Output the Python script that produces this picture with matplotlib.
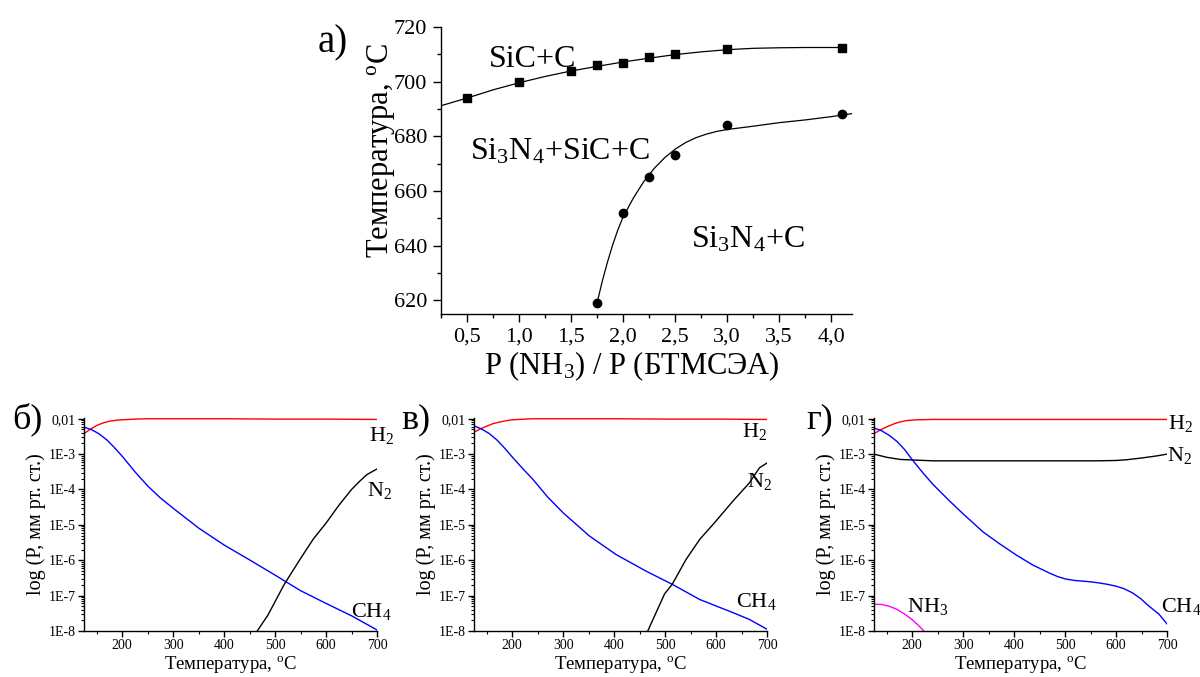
import numpy as np
import matplotlib
matplotlib.use("Agg")
import matplotlib.pyplot as plt
from matplotlib.ticker import FixedLocator, MultipleLocator, LogLocator, NullFormatter

plt.rcParams.update({
    "font.family": ["Liberation Serif", "DejaVu Serif"],
    "mathtext.fontset": "custom",
    "mathtext.rm": "Liberation Serif",
    "mathtext.it": "Liberation Serif:italic",
    "mathtext.bf": "Liberation Serif:bold",
    "axes.linewidth": 1.0,
})

# --- phase diagram: measured boundary points ---
ratio_sic = [0.5, 1.0, 1.5, 1.75, 2.0, 2.25, 2.5, 3.0, 4.1]
temp_sic = [694, 700, 704, 706, 707, 709, 710, 712, 712.5]
ratio_si3n4 = [1.75, 2.0, 2.25, 2.5, 3.0, 4.1]
temp_si3n4 = [619, 652, 665, 673, 684, 688]

# fitted boundary lines
fit_sic_x = [0.25, 0.5, 0.75, 1.0, 1.25, 1.5, 1.75, 2.0, 2.25, 2.5, 2.75, 3.0,
             3.25, 3.5, 3.75, 4.1]
fit_sic_y = [691.2, 694.0, 697.0, 699.6, 701.9, 703.9, 705.6, 707.2, 708.6,
             709.9, 710.9, 711.7, 712.2, 712.4, 712.5, 712.5]
fit_si3n4_x = [1.75, 1.8, 1.85, 1.9, 1.95, 2.0, 2.1, 2.2, 2.3, 2.4, 2.5, 2.6,
               2.7, 2.8, 2.9, 3.0, 3.25, 3.5, 3.75, 4.0, 4.2]
fit_si3n4_y = [619, 627, 634, 640.3, 645.8, 650.5, 657.5, 663.5, 668.3, 672.2,
               675.3, 677.7, 679.5, 680.8, 681.8, 682.5, 683.7, 685.0, 686.0,
               687.2, 688.3]

ratio_ticks = [0.5, 1.0, 1.5, 2.0, 2.5, 3.0, 3.5, 4.0]
ratio_labels = ["0,5", "1,0", "1,5", "2,0", "2,5", "3,0", "3,5", "4,0"]

# --- equilibrium partial pressures, log10 (mm Hg) vs temperature ---
# panel б
b_h2_t = [125, 137, 150, 162, 175, 190, 200, 225, 250, 300, 400, 500, 600, 700]
b_h2 = [-2.42, -2.30, -2.19, -2.12, -2.07, -2.04, -2.03, -2.01, -2.0, -2.0,
        -2.0, -2.01, -2.01, -2.02]
b_ch4_t = [125, 140, 155, 170, 185, 200, 225, 250, 275, 300, 350, 400, 450,
           500, 550, 600, 650, 700]
b_ch4 = [-2.24, -2.31, -2.43, -2.60, -2.82, -3.06, -3.50, -3.90, -4.24, -4.53,
         -5.09, -5.57, -5.99, -6.42, -6.86, -7.22, -7.57, -7.97]
b_n2_t = [465, 486, 518, 550, 575, 600, 625, 650, 665, 680, 700]
b_n2 = [-8.0, -7.55, -6.68, -5.95, -5.40, -4.95, -4.45, -4.00, -3.78, -3.58,
        -3.42]

# panel в
v_h2_t = [125, 137, 150, 162, 176, 190, 200, 240, 300, 400, 500, 600, 700]
v_h2 = [-2.38, -2.29, -2.21, -2.14, -2.09, -2.05, -2.03, -2.0, -2.0, -2.0,
        -2.01, -2.01, -2.02]
v_ch4_t = [125, 140, 155, 170, 185, 200, 220, 241, 270, 300, 352, 404, 463,
           514, 568, 633, 665, 700]
v_ch4 = [-2.20, -2.29, -2.42, -2.60, -2.83, -3.08, -3.40, -3.72, -4.22, -4.66,
         -5.32, -5.84, -6.31, -6.68, -7.11, -7.48, -7.67, -7.95]
v_n2_t = [466, 499, 514, 541, 568, 597, 633, 665, 685, 700]
v_n2 = [-8.0, -6.95, -6.68, -5.98, -5.41, -4.94, -4.33, -3.82, -3.39, -3.25]

# panel г
g_h2_t = [125, 137, 150, 165, 176, 190, 208, 241, 300, 400, 500, 600, 700]
g_h2 = [-2.42, -2.32, -2.23, -2.14, -2.09, -2.05, -2.03, -2.02, -2.02, -2.02,
        -2.02, -2.02, -2.02]
g_n2_t = [125, 150, 176, 208, 241, 300, 400, 500, 560, 600, 620, 650, 680, 700]
g_n2 = [-3.0, -3.09, -3.15, -3.17, -3.19, -3.19, -3.19, -3.19, -3.19, -3.18,
        -3.16, -3.11, -3.05, -3.0]
g_ch4_t = [125, 140, 155, 170, 185, 199, 221, 241, 273, 300, 339, 371, 404,
           436, 469, 485, 501, 518, 534, 550, 566, 583, 599, 615, 632, 648,
           664, 684, 700]
g_ch4 = [-2.26, -2.34, -2.47, -2.64, -2.87, -3.14, -3.53, -3.86, -4.32, -4.69,
         -5.20, -5.53, -5.85, -6.13, -6.36, -6.46, -6.53, -6.57, -6.59, -6.61,
         -6.64, -6.68, -6.73, -6.80, -6.92, -7.08, -7.29, -7.52, -7.80]
g_nh3_t = [125, 140, 155, 170, 185, 200, 212, 223]
g_nh3 = [-7.24, -7.25, -7.30, -7.39, -7.52, -7.68, -7.84, -8.0]

decade_ticks = [1e-8, 1e-7, 1e-6, 1e-5, 1e-4, 1e-3, 1e-2]
decade_labels = ["1E-8", "1E-7", "1E-6", "1E-5", "1E-4", "1E-3", "0,01"]

RED = "#ff0000"
BLUE = "#0000ff"
MAGENTA = "#ff00ff"

fig = plt.figure(figsize=(12, 6.77), dpi=100)

# ---------------- top: phase diagram ----------------
ax = fig.add_axes([441 / 1200, 1 - 314 / 677, 411 / 1200, 287 / 677])
ax.plot(fit_sic_x, fit_sic_y, color="black", lw=0.9)
ax.plot(fit_si3n4_x, fit_si3n4_y, color="black", lw=0.9)
ax.plot(ratio_sic, temp_sic, "s", color="black", ms=6)
ax.plot(ratio_si3n4, temp_si3n4, "o", color="black", ms=6)
ax.set_xlim(0.25, 4.2)
ax.set_ylim(615, 720)
for s in ("top", "right"):
    ax.spines[s].set_visible(False)
ax.xaxis.set_major_locator(FixedLocator(ratio_ticks))
ax.set_xticklabels(ratio_labels)
ax.xaxis.set_minor_locator(MultipleLocator(0.25))
ax.yaxis.set_major_locator(MultipleLocator(20))
ax.yaxis.set_minor_locator(MultipleLocator(10))
ax.tick_params(which="major", direction="out", length=6, width=1.0,
               labelsize=16, pad=4)
ax.tick_params(which="minor", direction="out", length=3, width=1.0)
ax.set_xlabel("P (NH$_3$) / P (БТМСЭА)", fontsize=22)
ax.set_ylabel("Температура, $^{\\mathrm{o}}$C", fontsize=22)
ax.xaxis.set_label_coords(0.465, -0.125)
ax.yaxis.set_label_coords(-0.107, 0.57)
ax.text(0.71, 705.5, "SiC+C", fontsize=23, va="baseline")
ax.text(0.53, 671.5, "Si$_3$N$_4$+SiC+C", fontsize=23, va="baseline")
ax.text(2.65, 639.5, "Si$_3$N$_4$+C", fontsize=23, va="baseline")
fig.text(318 / 1200, 1 - 52 / 677, "а)", fontsize=28, va="baseline")

# ---------------- bottom: gas phase composition ----------------
panels = [
    (84, "б)", 12,
     [(b_h2_t, b_h2, RED), (b_ch4_t, b_ch4, BLUE), (b_n2_t, b_n2, "black")],
     [("H$_2$", 0.974, 0.893), ("N$_2$", 0.967, 0.633), ("CH$_4$", 0.912, 0.068)]),
    (474, "в)", 401,
     [(v_h2_t, v_h2, RED), (v_ch4_t, v_ch4, BLUE), (v_n2_t, v_n2, "black")],
     [("H$_2$", 0.916, 0.911), ("N$_2$", 0.933, 0.676), ("CH$_4$", 0.895, 0.111)]),
    (874, "г)", 806,
     [(g_h2_t, g_h2, RED), (g_n2_t, g_n2, "black"), (g_ch4_t, g_ch4, BLUE),
      (g_nh3_t, g_nh3, MAGENTA)],
     [("H$_2$", 1.002, 0.948), ("N$_2$", 0.999, 0.80), ("CH$_4$", 0.979, 0.089),
      ("NH$_3$", 0.112, 0.089)]),
]

for left, letter, letter_x, curves, labels in panels:
    axb = fig.add_axes([left / 1200, 1 - 631 / 677, 293 / 1200, 213 / 677])
    for t, logp, col in curves:
        axb.plot(t, 10.0 ** np.array(logp), color=col, lw=1.0)
    axb.set_yscale("log")
    axb.set_xlim(125, 700)
    axb.set_ylim(1e-8, 1.05e-2)
    for s in ("top", "right"):
        axb.spines[s].set_visible(False)
    axb.xaxis.set_major_locator(MultipleLocator(100))
    axb.xaxis.set_minor_locator(MultipleLocator(50))
    axb.yaxis.set_major_locator(FixedLocator(decade_ticks))
    axb.set_yticklabels(decade_labels)
    axb.yaxis.set_minor_locator(LogLocator(base=10, subs=np.arange(2, 10)))
    axb.yaxis.set_minor_formatter(NullFormatter())
    axb.tick_params(which="major", direction="out", length=4, width=1.0,
                    labelsize=10, pad=2)
    axb.tick_params(which="minor", direction="out", length=2, width=0.8)
    axb.set_xlabel("Температура, $^{\\mathrm{o}}$C", fontsize=13.5, labelpad=1)
    axb.set_ylabel("log (P, мм рт. ст.)", fontsize=14.5, labelpad=2)
    for txt, xf, yf in labels:
        axb.text(xf, yf, txt, transform=axb.transAxes, fontsize=16,
                 va="baseline", clip_on=False)
    fig.text(letter_x / 1200, 1 - 428 / 677, letter, fontsize=26, va="baseline")

fig.savefig("out.png", dpi=100)
